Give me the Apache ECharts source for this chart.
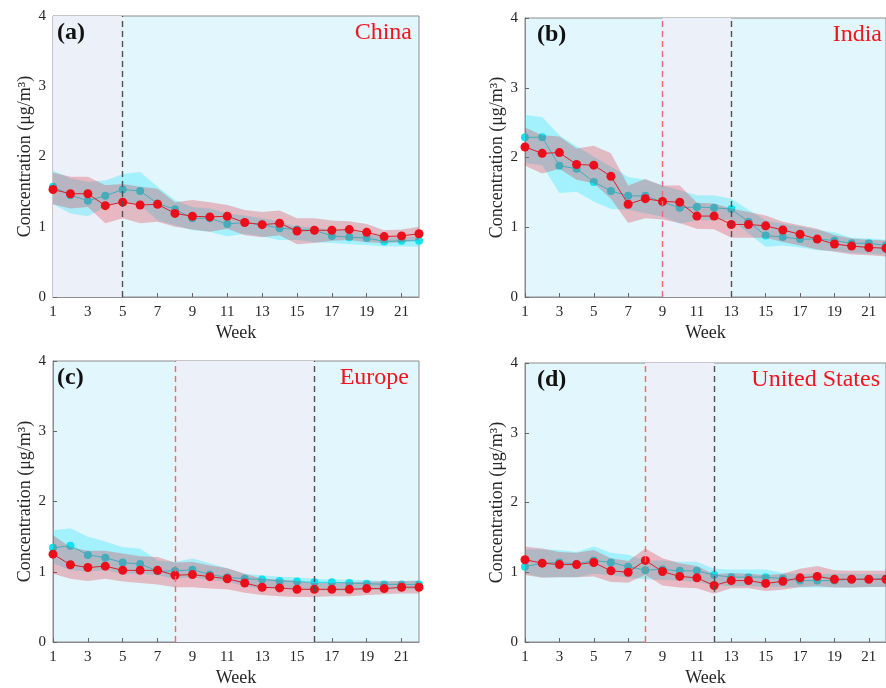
<!DOCTYPE html>
<html>
<head>
<meta charset="utf-8">
<script src="https://cdn.jsdelivr.net/npm/echarts@6/dist/echarts.min.js"></script>
<style>
  html, body { margin: 0; padding: 0; background: #fff; }
  #chart { width: 886px; height: 688px; }
</style>
</head>
<body>
<div id="chart"></div>
<script>
const weeks = ['1','2','3','4','5','6','7','8','9','10','11','12','13','14','15','16','17','18','19','20','21','22'];
const yTicks = [0, 1, 2, 3, 4];

// China
const chinaCyan   = [1.57,1.45,1.37,1.44,1.53,1.51,1.33,1.25,1.12,1.12,1.04,1.06,1.03,0.98,0.96,0.95,0.87,0.85,0.84,0.79,0.80,0.80];
const chinaCyanLo = [1.32,1.19,1.15,1.28,1.35,1.31,1.09,1.02,0.95,0.93,0.86,0.90,0.86,0.81,0.81,0.78,0.77,0.75,0.74,0.72,0.72,0.72];
const chinaCyanHi = [1.80,1.69,1.64,1.66,1.75,1.78,1.57,1.38,1.28,1.26,1.19,1.16,1.12,1.07,1.00,1.00,0.95,0.95,0.90,0.85,0.85,0.86];
const chinaRed    = [1.53,1.47,1.47,1.30,1.35,1.31,1.32,1.19,1.15,1.14,1.15,1.06,1.03,1.05,0.94,0.95,0.95,0.96,0.92,0.86,0.87,0.90];
const chinaRedLo  = [1.32,1.26,1.28,1.05,1.12,1.05,1.07,1.00,0.96,0.93,0.97,0.88,0.85,0.88,0.75,0.77,0.80,0.81,0.78,0.77,0.78,0.81];
const chinaRedHi  = [1.77,1.71,1.71,1.59,1.61,1.57,1.54,1.35,1.38,1.35,1.31,1.24,1.21,1.23,1.12,1.12,1.09,1.08,1.04,0.95,0.96,1.00];

// India
const indiaCyan   = [2.29,2.29,1.88,1.84,1.65,1.52,1.45,1.45,1.36,1.28,1.29,1.28,1.26,1.08,0.88,0.86,0.83,0.83,0.81,0.77,0.77,0.74];
const indiaCyanLo = [1.92,1.89,1.49,1.51,1.37,1.26,1.25,1.20,1.15,1.05,1.10,1.10,1.11,0.91,0.72,0.74,0.71,0.67,0.66,0.63,0.62,0.61];
const indiaCyanHi = [2.61,2.58,2.32,2.16,2.01,1.87,1.72,1.68,1.60,1.53,1.46,1.46,1.41,1.25,1.10,1.05,1.01,0.96,0.93,0.85,0.84,0.82];
const indiaRed    = [2.15,2.06,2.07,1.90,1.89,1.73,1.33,1.41,1.37,1.36,1.16,1.16,1.04,1.04,1.02,0.96,0.90,0.83,0.76,0.73,0.71,0.70];
const indiaRedLo  = [1.88,1.77,1.84,1.68,1.63,1.41,1.06,1.13,1.11,1.06,0.98,0.97,0.85,0.85,0.85,0.79,0.74,0.68,0.65,0.61,0.60,0.58];
const indiaRedHi  = [2.43,2.32,2.30,2.13,2.17,2.06,1.60,1.69,1.60,1.60,1.35,1.34,1.27,1.22,1.17,1.08,1.03,0.98,0.89,0.84,0.82,0.81];

// Europe
const europeCyan   = [1.34,1.37,1.24,1.20,1.13,1.11,1.01,1.01,1.03,0.96,0.92,0.90,0.89,0.87,0.86,0.85,0.85,0.84,0.83,0.82,0.82,0.82];
const europeCyanLo = [1.12,1.02,1.00,1.02,0.97,0.97,0.95,0.90,0.92,0.88,0.86,0.79,0.76,0.76,0.75,0.74,0.73,0.73,0.74,0.74,0.75,0.75];
const europeCyanHi = [1.59,1.62,1.50,1.43,1.35,1.33,1.16,1.14,1.19,1.12,1.05,0.97,0.95,0.93,0.92,0.90,0.89,0.89,0.88,0.87,0.87,0.88];
const europeRed    = [1.25,1.10,1.06,1.08,1.02,1.02,1.02,0.95,0.96,0.93,0.90,0.84,0.78,0.77,0.75,0.75,0.75,0.75,0.76,0.76,0.78,0.78];
const europeRedLo  = [0.97,0.90,0.87,0.90,0.86,0.84,0.82,0.78,0.78,0.76,0.75,0.70,0.67,0.65,0.64,0.64,0.65,0.65,0.67,0.68,0.69,0.69];
const europeRedHi  = [1.52,1.35,1.30,1.30,1.26,1.22,1.21,1.13,1.14,1.09,1.05,0.97,0.90,0.89,0.87,0.84,0.84,0.85,0.86,0.86,0.87,0.87];

// United States
const usCyan   = [1.08,1.13,1.14,1.12,1.17,1.14,1.08,1.03,1.04,1.02,1.02,0.96,0.93,0.93,0.93,0.91,0.88,0.88,0.88,0.90,0.90,0.91];
const usCyanLo = [0.98,0.93,0.93,0.93,0.98,0.96,0.92,0.90,0.89,0.88,0.86,0.81,0.80,0.80,0.79,0.79,0.78,0.78,0.78,0.78,0.79,0.79];
const usCyanHi = [1.33,1.33,1.32,1.29,1.37,1.28,1.25,1.17,1.17,1.15,1.15,1.05,1.04,1.04,1.04,0.99,0.98,0.98,0.98,0.98,0.97,0.97];
const usRed    = [1.18,1.13,1.11,1.11,1.14,1.02,1.00,1.17,1.01,0.94,0.92,0.81,0.88,0.88,0.84,0.87,0.92,0.94,0.90,0.90,0.90,0.90];
const usRedLo  = [0.96,0.92,0.93,0.93,0.94,0.86,0.85,0.96,0.81,0.78,0.77,0.69,0.77,0.77,0.73,0.75,0.79,0.80,0.78,0.78,0.79,0.79];
const usRedHi  = [1.37,1.34,1.29,1.28,1.32,1.20,1.16,1.34,1.20,1.13,1.09,0.97,0.99,0.98,0.96,0.98,1.05,1.09,1.03,1.02,1.02,1.02];

const panels = [
  { tag: '(a)', name: 'China', cyan: chinaCyan, cyanLo: chinaCyanLo, cyanHi: chinaCyanHi,
    red: chinaRed, redLo: chinaRedLo, redHi: chinaRedHi, shade: ['1', '5'], redLine: null, blackLine: '5',
    left: 53, top: 16, width: 366, height: 281, tagX: 57, nameX: 412 },
  { tag: '(b)', name: 'India', cyan: indiaCyan, cyanLo: indiaCyanLo, cyanHi: indiaCyanHi,
    red: indiaRed, redLo: indiaRedLo, redHi: indiaRedHi, shade: ['9', '13'], redLine: '9', blackLine: '13',
    left: 525, top: 18, width: 365, height: 279, tagX: 537, nameX: 882 },
  { tag: '(c)', name: 'Europe', cyan: europeCyan, cyanLo: europeCyanLo, cyanHi: europeCyanHi,
    red: europeRed, redLo: europeRedLo, redHi: europeRedHi, shade: ['8', '16'], redLine: '8', blackLine: '16',
    left: 53, top: 361, width: 366, height: 281, tagX: 57, nameX: 409 },
  { tag: '(d)', name: 'United States', cyan: usCyan, cyanLo: usCyanLo, cyanHi: usCyanHi,
    red: usRed, redLo: usRedLo, redHi: usRedHi, shade: ['8', '12'], redLine: '8', blackLine: '12',
    left: 525, top: 363, width: 365, height: 279, tagX: 537, nameX: 880 }
];

const font = '"Liberation Serif", "Times New Roman", serif';
const grids = [], xAxes = [], yAxes = [], series = [], texts = [];

panels.forEach((p, i) => {
  grids.push({
    left: p.left, top: p.top, width: p.width, height: p.height,
    show: true, backgroundColor: '#E2F6FD', borderColor: '#8c8c8c', borderWidth: 1
  });
  xAxes.push({
    type: 'category', gridIndex: i, data: weeks, boundaryGap: false,
    name: 'Week', nameLocation: 'middle', nameGap: 27,
    nameTextStyle: { fontFamily: font, fontSize: 18, color: '#262626' },
    axisLine: { lineStyle: { color: '#8c8c8c' } },
    axisTick: { inside: true, interval: 1, length: 4, lineStyle: { color: '#666' } },
    axisLabel: { interval: 1, fontFamily: font, fontSize: 15, color: '#262626', margin: 8 },
    splitLine: { show: false }
  });
  yAxes.push({
    type: 'value', gridIndex: i, min: yTicks[0], max: yTicks[yTicks.length - 1], interval: 1,
    name: 'Concentration (μg/m³)', nameLocation: 'middle', nameGap: 18, nameRotate: 90,
    nameTextStyle: { fontFamily: font, fontSize: 18, color: '#262626' },
    axisLine: { show: true, lineStyle: { color: '#8c8c8c' } },
    axisTick: { show: true, inside: true, length: 4, lineStyle: { color: '#666' } },
    axisLabel: { fontFamily: font, fontSize: 15, color: '#262626', margin: 7 },
    splitLine: { show: false }
  });

  const base = { type: 'line', xAxisIndex: i, yAxisIndex: i, silent: true };
  const diff = (hi, lo) => hi.map((v, k) => +(v - lo[k]).toFixed(3));

  // cyan band
  series.push(Object.assign({}, base, {
    z: 2, data: p.cyanLo, stack: 'c' + i, symbol: 'none', lineStyle: { opacity: 0 },
    markArea: { silent: true, z: 1, itemStyle: { color: '#ECF0F8' },
      data: [[{ xAxis: p.shade[0] }, { xAxis: p.shade[1] }]] }
  }));
  series.push(Object.assign({}, base, {
    z: 2, data: diff(p.cyanHi, p.cyanLo), stack: 'c' + i, symbol: 'none', lineStyle: { opacity: 0 },
    areaStyle: { color: 'rgba(0,230,250,0.4)' }
  }));
  // cyan mean
  series.push(Object.assign({}, base, {
    z: 3, data: p.cyan, symbol: 'circle', symbolSize: 8,
    itemStyle: { color: '#10E2F0' }, lineStyle: { color: '#10E2F0', width: 1 }
  }));
  // red band
  series.push(Object.assign({}, base, {
    z: 4, data: p.redLo, stack: 'r' + i, symbol: 'none', lineStyle: { opacity: 0 }
  }));
  series.push(Object.assign({}, base, {
    z: 4, data: diff(p.redHi, p.redLo), stack: 'r' + i, symbol: 'none', lineStyle: { opacity: 0 },
    areaStyle: { color: 'rgba(222,28,42,0.38)' }
  }));
  // red mean + dashed markers
  const ml = [];
  if (p.redLine) ml.push({ xAxis: p.redLine, lineStyle: { color: '#F06870' } });
  ml.push({ xAxis: p.blackLine, lineStyle: { color: '#505050' } });
  series.push(Object.assign({}, base, {
    z: 5, data: p.red, symbol: 'circle', symbolSize: 9,
    itemStyle: { color: '#EC0E1A' }, lineStyle: { color: '#D8202C', width: 1 },
    markLine: { silent: true, z: 6, symbol: 'none', label: { show: false },
      lineStyle: { type: [6, 4], width: 1.4 }, data: ml }
  }));

  texts.push({
    type: 'text', left: p.tagX, top: p.top + 5, z: 100,
    style: { text: p.tag, font: 'bold 24px ' + font, fill: '#111' }
  });
  texts.push({
    type: 'text', x: p.nameX, y: p.top + 5, z: 100,
    style: { text: p.name, font: '24px ' + font, fill: '#F0141E', textAlign: 'right', textVerticalAlign: 'top' }
  });
});

const chart = echarts.init(document.getElementById('chart'), null, { renderer: 'canvas' });
chart.setOption({
  animation: false,
  backgroundColor: '#ffffff',
  grid: grids,
  xAxis: xAxes,
  yAxis: yAxes,
  series: series,
  graphic: texts
});
</script>
</body>
</html>
